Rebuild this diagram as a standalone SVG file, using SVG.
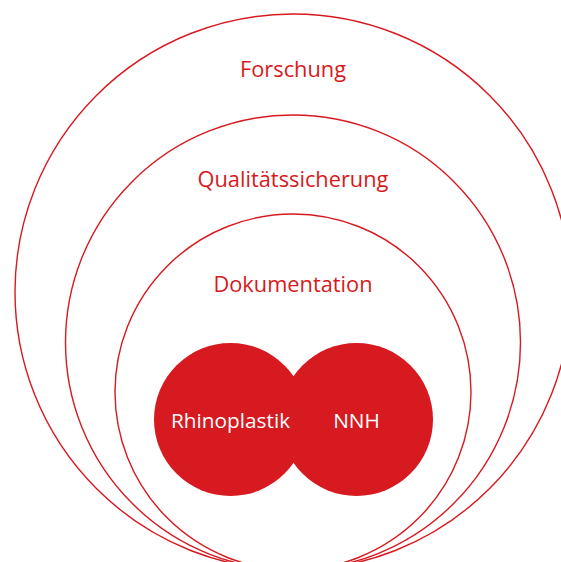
<svg xmlns="http://www.w3.org/2000/svg" width="561" height="562" viewBox="0 0 561 562">
<style>
.ring{fill:none;stroke:#d71920;stroke-width:1.4}
.blob{fill:#d71920}
.lbl{font-family:"Open Sans","Liberation Sans",sans-serif;font-size:21.8px;text-anchor:middle;fill:#d71920}
.inl{font-family:"Open Sans","Liberation Sans",sans-serif;font-size:20.8px;text-anchor:middle;fill:#ffffff}
</style>
<rect width="561" height="562" fill="#ffffff"/>
<g id="forschung">
<circle class="ring" cx="293" cy="292" r="278"/>
<text class="lbl" x="293" y="76.5">Forschung</text>
</g>
<g id="qualitaetssicherung">
<circle class="ring" cx="293" cy="342.5" r="227.5"/>
<text class="lbl" x="293" y="187">Qualitätssicherung</text>
</g>
<g id="dokumentation">
<circle class="ring" cx="293" cy="392" r="178"/>
<text class="lbl" x="293" y="292">Dokumentation</text>
</g>
<g id="rhinoplastik">
<circle class="blob" cx="230.5" cy="419.5" r="76.5"/>
</g>
<g id="nnh">
<circle class="blob" cx="356.5" cy="419.5" r="76.5"/>
</g>
<g id="labels">
<text class="inl" x="230.5" y="428">Rhinoplastik</text>
<text class="inl" x="356.5" y="428">NNH</text>
</g>
<g id="connectors"/>
</svg>
